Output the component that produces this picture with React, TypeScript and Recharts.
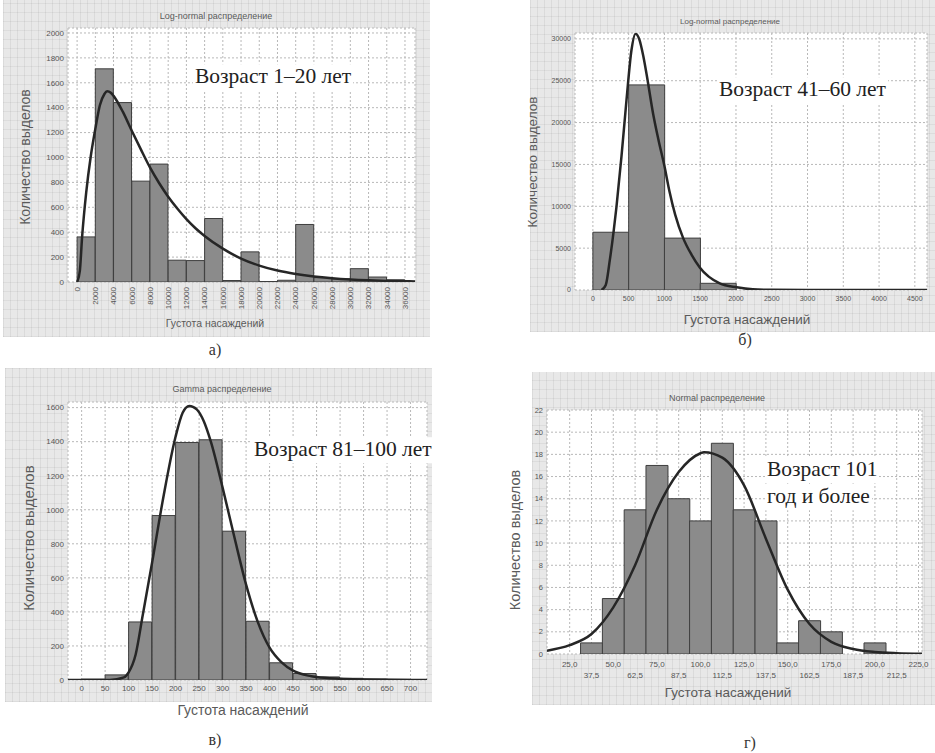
import React from 'react';
import { ComposedChart, Bar, Line, XAxis, YAxis, CartesianGrid, ReferenceArea } from 'recharts';

// ---------- Panel a: Log-normal, age 1–20 ----------
const binsA = [1000, 3000, 5000, 7000, 9000, 11000, 13000, 15000, 17000, 19000, 21000, 23000, 25000, 27000, 29000, 31000, 33000, 35000];
const countsA = [362, 1712, 1441, 810, 947, 175, 172, 510, 12, 242, 4, 14, 462, 35, 25, 107, 40, 18];
const curveAX = [0, 300, 550, 1000, 1500, 2000, 2500, 3000, 3300, 3700, 4000, 5000, 6000, 7000, 8000, 9000, 10000, 11000, 12000, 13000, 14000, 16000, 18000, 20000, 22000, 24000, 26000, 28000, 30000, 32000, 34000, 36000, 37100];
const curveAY = [0, 90, 362, 720, 1010, 1230, 1420, 1510, 1532, 1520, 1495, 1370, 1215, 1065, 920, 795, 685, 590, 505, 432, 370, 268, 188, 132, 92, 65, 45, 31, 21, 14, 9, 6, 5];
const ticksAX = [0, 2000, 4000, 6000, 8000, 10000, 12000, 14000, 16000, 18000, 20000, 22000, 24000, 26000, 28000, 30000, 32000, 34000, 36000];
const ticksAY = [0, 200, 400, 600, 800, 1000, 1200, 1400, 1600, 1800, 2000];

// ---------- Panel b: Log-normal, age 41–60 ----------
const binsB = [250, 750, 1250, 1750];
const countsB = [6900, 24500, 6200, 800];
const curveBX = [120, 180, 237, 290, 330, 400, 470, 540, 596, 650, 703, 750, 843, 920, 1000, 1070, 1150, 1262, 1380, 1494, 1773, 2011, 2235, 2500, 3000, 4670];
const curveBY = [0, 600, 3600, 7000, 9960, 16000, 22700, 28700, 30600, 29900, 28000, 25800, 21000, 17800, 14800, 11800, 9000, 6200, 4200, 2700, 800, 320, 80, 20, 0, 0];
const ticksBX = [0, 500, 1000, 1500, 2000, 2500, 3000, 3500, 4000, 4500];
const ticksBY = [0, 5000, 10000, 15000, 20000, 25000, 30000];

// ---------- Panel c: Gamma, age 81–100 ----------
const binsC = [25, 75, 125, 175, 225, 275, 325, 375, 425, 475, 525, 575, 625, 675];
const countsC = [5, 30, 341, 966, 1395, 1411, 874, 345, 101, 38, 18, 10, 6, 4];
const curveCX = [-29, 60, 90, 100, 115, 130, 150, 175, 200, 215, 229, 245, 260, 275, 300, 325, 350, 375, 400, 425, 450, 475, 500, 550, 600, 650, 735];
const curveCY = [0, 0, 15, 45, 150, 380, 690, 1090, 1430, 1570, 1610, 1590, 1520, 1400, 1130, 840, 560, 340, 190, 105, 55, 30, 17, 7, 3, 1, 0];
const ticksCX = [0, 50, 100, 150, 200, 250, 300, 350, 400, 450, 500, 550, 600, 650, 700];
const ticksCY = [0, 200, 400, 600, 800, 1000, 1200, 1400, 1600];

// ---------- Panel d: Normal, age 101+ ----------
const binsD = [25, 37.5, 50, 62.5, 75, 87.5, 100, 112.5, 125, 137.5, 150, 162.5, 175, 187.5, 200, 212.5];
const countsD = [0, 1, 5, 13, 17, 14, 12, 19, 13, 12, 1, 3, 2, 0, 1, 0];
const curveDX = [12, 25, 37.5, 50, 62.5, 75, 87.5, 100, 102, 112.5, 125, 137.5, 150, 162.5, 175, 187.5, 200, 212.5, 227];
const curveDY = [0.3, 0.8, 1.8, 4.2, 8.0, 13.0, 16.4, 18.1, 18.2, 17.7, 15.2, 10.4, 5.8, 2.7, 1.1, 0.45, 0.18, 0.07, 0.02];
const ticksDX = [25, 37.5, 50, 62.5, 75, 87.5, 100, 112.5, 125, 137.5, 150, 162.5, 175, 187.5, 200, 212.5, 225];
const ticksDY = [0, 2, 4, 6, 8, 10, 12, 14, 16, 18, 20, 22];

const SANS = '"Liberation Sans", Arial, sans-serif';
const SERIF = '"Liberation Serif", "Times New Roman", serif';
const TICK_COLOR = '#555';

type Frame = { L: number; T: number; R: number; B: number };
type TickKind = 'rot' | 'row' | 'two';
interface PanelCfg {
  frame: Frame;
  bins: number[];
  counts: number[];
  curveX: number[];
  curveY: number[];
  xDomain: [number, number];
  yDomain: [number, number];
  xTicks: number[];
  yTicks: number[];
  tickKind: TickKind;
  xFont: number;
  xOff: number;
  yFont: number;
}

const PAD_L = 40, PAD_R = 8, PAD_T = 8, PAD_B = 34;

const makeYTick = (fs: number) => (p: any) => (
  <text x={p.x - 4} y={p.y} dy={fs * 0.35} textAnchor="end" fontSize={fs} fill={TICK_COLOR} fontFamily={SANS}>
    {p.payload.value}
  </text>
);

const makeXTick = (kind: TickKind, fs: number, off: number, bottom: number) => (p: any) => {
  if (kind === 'rot') {
    const yy = bottom + off;
    return (
      <text x={p.x} y={yy} dy={fs * 0.35} transform={`rotate(-90 ${p.x} ${yy})`} textAnchor="end" fontSize={fs} fill={TICK_COLOR} fontFamily={SANS}>
        {p.payload.value}
      </text>
    );
  }
  if (kind === 'two') {
    const v: number = p.payload.value;
    const yy = bottom + (p.index % 2 === 0 ? off : off + 11);
    return (
      <text x={p.x} y={yy} dy={fs * 0.35} textAnchor="middle" fontSize={fs} fill={TICK_COLOR} fontFamily={SANS}>
        {v.toFixed(1).replace('.', ',')}
      </text>
    );
  }
  return (
    <text x={p.x} y={bottom + off} dy={fs * 0.35} textAnchor="middle" fontSize={fs} fill={TICK_COLOR} fontFamily={SANS}>
      {p.payload.value}
    </text>
  );
};

function HistPanel({ cfg }: { cfg: PanelCfg }) {
  const { frame } = cfg;
  const w = frame.R - frame.L + PAD_L + PAD_R;
  const h = frame.B - frame.T + PAD_T + PAD_B;
  const plotBottom = PAD_T + (frame.B - frame.T);
  const barData = cfg.bins.map((b, i) => ({ x: b, n: cfg.counts[i] }));
  const lineData = cfg.curveX.map((x, i) => ({ x, y: cfg.curveY[i] }));
  return (
    <div style={{ position: 'absolute', left: frame.L - PAD_L, top: frame.T - PAD_T }}>
      <ComposedChart
        width={w}
        height={h}
        data={barData}
        margin={{ top: PAD_T, right: PAD_R, bottom: 0, left: 0 }}
        barCategoryGap={0}
        barGap={0}
      >
        <CartesianGrid xAxisId="num" yAxisId="y" fill="#ffffff" stroke="#b8b8b8" strokeDasharray="2 2" />
        <XAxis xAxisId="bars" dataKey="x" type="number" domain={cfg.xDomain} allowDataOverflow hide />
        <XAxis
          xAxisId="num"
          dataKey="x"
          type="number"
          domain={cfg.xDomain}
          allowDataOverflow
          ticks={cfg.xTicks}
          interval={0}
          height={PAD_B}
          tickSize={0}
          tickMargin={0}
          axisLine={false}
          tickLine={false}
          tick={makeXTick(cfg.tickKind, cfg.xFont, cfg.xOff, plotBottom)}
        />
        <YAxis
          yAxisId="y"
          type="number"
          domain={cfg.yDomain}
          allowDataOverflow
          ticks={cfg.yTicks}
          interval={0}
          width={PAD_L}
          tickSize={0}
          tickMargin={0}
          axisLine={false}
          tickLine={false}
          tick={makeYTick(cfg.yFont)}
        />
        <Bar xAxisId="bars" yAxisId="y" dataKey="n" fill="#8b8b8b" stroke="#3e3e3e" strokeWidth={1} isAnimationActive={false} />
        <Line
          xAxisId="num"
          yAxisId="y"
          data={lineData}
          dataKey="y"
          type="monotone"
          stroke="#262626"
          strokeWidth={2.5}
          dot={false}
          activeDot={false}
          isAnimationActive={false}
        />
        <ReferenceArea xAxisId="num" yAxisId="y" fill="none" fillOpacity={0} stroke="#2a2a2a" strokeWidth={1.5} ifOverflow="visible" />
      </ComposedChart>
    </div>
  );
}

const panelA: PanelCfg = {
  frame: { L: 68, T: 28, R: 415, B: 282 },
  bins: binsA, counts: countsA, curveX: curveAX, curveY: curveAY,
  xDomain: [-1000, 37100], yDomain: [0, 2040],
  xTicks: ticksAX, yTicks: ticksAY, tickKind: 'rot', xFont: 8, xOff: 5, yFont: 8,
};
const panelB: PanelCfg = {
  frame: { L: 575, T: 33, R: 927, B: 290 },
  bins: binsB, counts: countsB, curveX: curveBX, curveY: curveBY,
  xDomain: [-250, 4670], yDomain: [0, 30700],
  xTicks: ticksBX, yTicks: ticksBY, tickKind: 'row', xFont: 7, xOff: 9, yFont: 7,
};
const panelC: PanelCfg = {
  frame: { L: 68, T: 402, R: 427, B: 680 },
  bins: binsC, counts: countsC, curveX: curveCX, curveY: curveCY,
  xDomain: [-29, 735], yDomain: [0, 1633],
  xTicks: ticksCX, yTicks: ticksCY, tickKind: 'row', xFont: 8, xOff: 8, yFont: 8,
};
const panelD: PanelCfg = {
  frame: { L: 547, T: 410, R: 922, B: 654 },
  bins: binsD, counts: countsD, curveX: curveDX, curveY: curveDY,
  xDomain: [12, 227], yDomain: [0, 22],
  xTicks: ticksDX, yTicks: ticksDY, tickKind: 'two', xFont: 8, xOff: 10, yFont: 7.5,
};

type TxtProps = {
  x: number; y: number; size: number; family?: string; color?: string;
  rotate?: boolean; start?: boolean; bg?: string; children: React.ReactNode;
};
const Txt = ({ x, y, size, family = SANS, color = '#5a5a5a', rotate, start, bg, children }: TxtProps) => (
  <div
    style={{
      position: 'absolute', left: x, top: y,
      transform: `translate(${start ? '0' : '-50%'}, -50%)${rotate ? ' rotate(-90deg)' : ''}`,
      fontSize: size, fontFamily: family, color, whiteSpace: 'nowrap', lineHeight: 1,
      background: bg, padding: bg ? '2px 2px' : 0, zIndex: 5,
    }}
  >
    {children}
  </div>
);

const bgStyle = (l: number, t: number, r: number, b: number): React.CSSProperties => ({
  position: 'absolute', left: l, top: t, width: r - l, height: b - t,
  background: '#e8e8e8',
  backgroundImage:
    'repeating-linear-gradient(90deg, rgba(0,0,0,0.06) 0 1px, transparent 1px 7px), repeating-linear-gradient(0deg, rgba(0,0,0,0.05) 0 1px, transparent 1px 9px)',
});

export default function App() {
  return (
    <div style={{ position: 'absolute', left: 0, top: 0, width: 935, height: 753, background: '#fff', overflow: 'hidden' }}>
      <div style={bgStyle(3, 0, 430, 337)} />
      <div style={bgStyle(530, 0, 935, 332)} />
      <div style={bgStyle(5, 368, 432, 702)} />
      <div style={bgStyle(532, 372, 935, 705)} />

      <HistPanel cfg={panelA} />
      <HistPanel cfg={panelB} />
      <HistPanel cfg={panelC} />
      <HistPanel cfg={panelD} />

      {/* panel a */}
      <Txt x={216} y={16} size={9}>Log-normal распределение</Txt>
      <Txt x={25} y={157} size={14} rotate>Количество выделов</Txt>
      <Txt x={215} y={323} size={10.5}>Густота насаждений</Txt>
      <Txt x={215} y={350} size={16} family={SERIF} color="#333">а)</Txt>
      <Txt x={193} y={77} size={21.5} family={SERIF} color="#222" start bg="#fff">Возраст 1–20 лет</Txt>

      {/* panel b */}
      <Txt x={730} y={22} size={8}>Log-normal распределение</Txt>
      <Txt x={533} y={162} size={13.5} rotate>Количество выделов</Txt>
      <Txt x={747} y={320} size={13.5}>Густота насаждений</Txt>
      <Txt x={745} y={340} size={16} family={SERIF} color="#333">б)</Txt>
      <Txt x={717} y={90} size={21.5} family={SERIF} color="#222" start bg="#fff">Возраст 41–60 лет</Txt>

      {/* panel c */}
      <Txt x={222} y={389} size={9}>Gamma распределение</Txt>
      <Txt x={28} y={538} size={15} rotate>Количество выделов</Txt>
      <Txt x={243} y={710} size={14}>Густота насаждений</Txt>
      <Txt x={215} y={740} size={16} family={SERIF} color="#333">в)</Txt>
      <Txt x={252} y={450} size={21.5} family={SERIF} color="#222" start bg="#fff">Возраст 81–100 лет</Txt>

      {/* panel d */}
      <Txt x={717} y={398} size={9}>Normal распределение</Txt>
      <Txt x={515} y={540} size={14.5} rotate>Количество выделов</Txt>
      <Txt x={728} y={693} size={13.5}>Густота насаждений</Txt>
      <Txt x={750} y={743} size={16} family={SERIF} color="#333">г)</Txt>
      <Txt x={765} y={470} size={21.5} family={SERIF} color="#222" start bg="#fff">Возраст 101</Txt>
      <Txt x={765} y={497} size={21.5} family={SERIF} color="#222" start bg="#fff">год и более</Txt>
    </div>
  );
}
